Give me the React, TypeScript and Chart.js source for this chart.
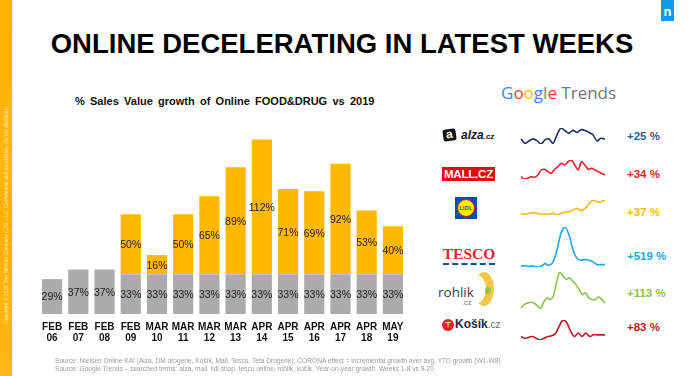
import React, { useEffect, useRef } from "react";
import { Chart, registerables } from "chart.js";

Chart.register(...registerables);

const categories = [
  ["FEB", "06"], ["FEB", "07"], ["FEB", "08"], ["FEB", "09"], ["MAR", "10"], ["MAR", "11"], ["MAR", "12"],
  ["MAR", "13"], ["APR", "14"], ["APR", "15"], ["APR", "16"], ["APR", "17"], ["APR", "18"], ["MAY", "19"],
];
const baseGrowth = [29, 37, 37, 33, 33, 33, 33, 33, 33, 33, 33, 33, 33, 33];
const coronaEffect = [0, 0, 0, 50, 16, 50, 65, 89, 112, 71, 69, 92, 53, 40];

const alzaTrend = [23, 10, 17, 23, 18, 8, 20, 23, 10, 35, 55, 47, 40, 48, 42, 50, 48, 42, 35, 17, 25, 22];
const mallTrend = [15, 8, 10, 15, 13, 20, 35, 37, 30, 25, 37, 45, 55, 50, 60, 65, 50, 35, 60, 50, 37, 40, 35, 30, 25, 20];
const lidlTrend = [10, 7, 10, 12, 10, 7, 8, 7, 10, 5, 10, 13, 15, 20, 25, 18, 25, 38, 50, 45, 45, 50];
const tescoTrend = [4, 6, 4, 5, 2, 4, 12, 7, 17, 52, 102, 120, 97, 52, 27, 22, 24, 22, 17, 9, 9, 9];
const rohlikTrend = [5, 15, 20, 22, 20, 12, 2, 22, 35, 30, 40, 80, 112, 100, 90, 95, 85, 75, 60, 45, 50, 35, 30, 30, 38, 30, 20];
const kosikTrend = [15, 10, 13, 15, 10, 5, 10, 15, 17, 23, 45, 63, 55, 30, 15, 25, 15, 25, 15, 20, 20, 20, 20];

const trendChanges = ["+25 %", "+34 %", "+37 %", "+519 %", "+113 %", "+83 %"];

const FONT = "'Liberation Sans', Arial, Helvetica, sans-serif";

const barLabels = {
  id: "barLabels",
  afterDatasetsDraw(chart: any) {
    const ctx = chart.ctx;
    ctx.save();
    ctx.font = `10.5px ${FONT}`;
    ctx.fillStyle = "#222";
    ctx.textAlign = "center";
    ctx.textBaseline = "middle";
    chart.data.datasets.forEach((ds: any, i: number) => {
      const meta = chart.getDatasetMeta(i);
      meta.data.forEach((el: any, j: number) => {
        const v = ds.data[j];
        if (!v) return;
        const p = el.getProps(["x", "y", "base"], true);
        ctx.fillText(v + "%", p.x, (p.y + p.base) / 2 + 1);
      });
    });
    ctx.restore();
  },
};

function BarChart() {
  const ref = useRef<HTMLCanvasElement>(null);
  useEffect(() => {
    const chart = new Chart(ref.current as HTMLCanvasElement, {
      type: "bar",
      data: {
        labels: categories,
        datasets: [
          { label: "Base", data: baseGrowth, backgroundColor: "#ABABAB", borderWidth: 0 },
          { label: "Corona", data: coronaEffect, backgroundColor: "#FFB800", borderWidth: 0 },
        ],
      },
      options: {
        animation: false,
        responsive: false,
        maintainAspectRatio: false,
        events: [],
        layout: { padding: { left: 19, right: 14, top: 10, bottom: 8 } },
        datasets: { bar: { categoryPercentage: 1, barPercentage: 0.77 } },
        plugins: { legend: { display: false }, tooltip: { enabled: false } },
        scales: {
          x: {
            stacked: true,
            grid: { display: false, drawTicks: false },
            border: { display: false },
            ticks: {
              color: "#111",
              padding: 8,
              maxRotation: 0,
              autoSkip: false,
              font: { family: FONT, size: 10, weight: "bold", lineHeight: 1.1 },
            },
          },
          y: { stacked: true, display: false, min: 0, max: 153 },
        },
      },
      plugins: [barLabels],
    } as any);
    return () => chart.destroy();
  }, []);
  return (
    <canvas
      ref={ref}
      width={400}
      height={240}
      style={{ position: "absolute", left: 20, top: 120, width: 400, height: 240 }}
    />
  );
}

function Spark(props: { data: number[]; color: string; left: number; top: number; width: number; height: number }) {
  const ref = useRef<HTMLCanvasElement>(null);
  const { data, color, left, top, width, height } = props;
  useEffect(() => {
    const chart = new Chart(ref.current as HTMLCanvasElement, {
      type: "line",
      data: {
        labels: data.map((_, i) => String(i)),
        datasets: [{ data, borderColor: color, borderWidth: 1.6, pointRadius: 0, tension: 0.3, fill: false }],
      },
      options: {
        animation: false,
        responsive: false,
        maintainAspectRatio: false,
        events: [],
        layout: { padding: 1 },
        plugins: { legend: { display: false }, tooltip: { enabled: false } },
        scales: {
          x: { display: false },
          y: { display: false, min: Math.min(...data), max: Math.max(...data) },
        },
      },
    } as any);
    return () => chart.destroy();
  }, []);
  return (
    <canvas ref={ref} width={width} height={height} style={{ position: "absolute", left, top, width, height }} />
  );
}

function Pct(props: { text: string; color: string; top: number }) {
  return (
    <div
      style={{
        position: "absolute",
        left: 627,
        top: props.top - 7,
        height: 14,
        lineHeight: "14px",
        fontFamily: FONT,
        fontWeight: "bold",
        fontSize: 11.5,
        color: props.color,
        whiteSpace: "nowrap",
      }}
    >
      {props.text}
    </div>
  );
}

export default function App() {
  const abs = (s: any) => ({ position: "absolute", ...s } as React.CSSProperties);
  return (
    <div
      style={{
        position: "fixed",
        left: 0,
        top: 0,
        width: 700,
        height: 376,
        background: "#fff",
        overflow: "hidden",
        fontFamily: FONT,
      }}
    >
      {/* left strip */}
      <div style={abs({ left: 0, top: 0, width: 12, height: 376, background: "linear-gradient(180deg,#FFB000 0%,#FFB60F 40%,#FDB000 60%,#FFB81A 100%)" })} />
      <div
        style={abs({
          left: 6,
          top: 215,
          width: 240,
          marginLeft: -120,
          textAlign: "center",
          transform: "rotate(-90deg)",
          fontSize: 5,
          color: "rgba(255,255,255,0.75)",
          whiteSpace: "nowrap",
          lineHeight: "6px",
          marginTop: -3,
        })}
      >
        Copyright © 2020 The Nielsen Company (US), LLC. Confidential and proprietary. Do not distribute.
      </div>

      {/* nielsen icon */}
      <div
        style={abs({
          left: 661,
          top: 0,
          width: 13,
          height: 21,
          background: "#0B9BEA",
          color: "#fff",
          fontSize: 13,
          fontWeight: "bold",
          textAlign: "center",
          lineHeight: "24px",
        })}
      >
        n
      </div>

      {/* title */}
      <div
        style={abs({
          left: 0,
          width: 684,
          top: 28,
          textAlign: "center",
          fontSize: 27.5,
          fontWeight: "bold",
          color: "#000",
          lineHeight: "32px",
          whiteSpace: "nowrap",
        })}
      >
        ONLINE DECELERATING IN LATEST WEEKS
      </div>

      {/* subtitle */}
      <div
        style={abs({
          left: 75,
          top: 94,
          fontSize: 11,
          fontWeight: "bold",
          color: "#111",
          wordSpacing: 2.2,
          lineHeight: "14px",
          whiteSpace: "nowrap",
        })}
      >
        % Sales Value growth of Online FOOD&amp;DRUG vs 2019
      </div>

      <BarChart />

      {/* Google Trends */}
      <div style={abs({ left: 501, top: 82, fontSize: 17, lineHeight: "22px", whiteSpace: "nowrap", fontFamily: "'Open Sans', " + FONT })}>
        <span style={{ color: "#4285F4" }}>G</span>
        <span style={{ color: "#EA4335" }}>o</span>
        <span style={{ color: "#FBBC05" }}>o</span>
        <span style={{ color: "#4285F4" }}>g</span>
        <span style={{ color: "#34A853" }}>l</span>
        <span style={{ color: "#EA4335" }}>e</span>
        <span style={{ color: "#737373" }}> Trends</span>
      </div>

      {/* alza logo */}
      <div
        style={abs({
          left: 443,
          top: 129,
          width: 13,
          height: 12,
          background: "#111",
          borderRadius: 2,
          transform: "rotate(-8deg)",
          color: "#fff",
          fontWeight: "bold",
          fontSize: 12,
          lineHeight: "11px",
          textAlign: "center",
        })}
      >
        a
      </div>
      <div style={abs({ left: 461, top: 128, fontSize: 12, fontWeight: "bold", fontStyle: "italic", color: "#16162a", lineHeight: "14px", whiteSpace: "nowrap" })}>
        alza<span style={{ fontSize: 8 }}>.cz</span>
      </div>

      {/* MALL logo */}
      <div
        style={abs({
          left: 442,
          top: 167,
          width: 53,
          height: 14,
          background: "#E30613",
          color: "#fff",
          fontWeight: "bold",
          fontSize: 11.5,
          lineHeight: "14px",
          textAlign: "center",
          letterSpacing: -0.2,
        })}
      >
        MALL.CZ
      </div>

      {/* LIDL logo */}
      <div style={abs({ left: 455, top: 197, width: 22, height: 22, background: "#0050AA" })}>
        <div
          style={abs({
            left: 2,
            top: 2,
            width: 16,
            height: 16,
            borderRadius: "50%",
            background: "#FFF000",
            border: "1px solid #E60A14",
            color: "#0050AA",
            fontSize: 5.5,
            fontWeight: "bold",
            textAlign: "center",
            lineHeight: "16px",
            letterSpacing: 0.2,
          })}
        >
          L<span style={{ color: "#E60A14" }}>I</span>DL
        </div>
      </div>

      {/* TESCO logo */}
      <div
        style={abs({
          left: 442,
          top: 246,
          width: 54,
          textAlign: "center",
          fontFamily: "'Liberation Serif', 'DejaVu Serif', serif",
          fontWeight: "bold",
          fontSize: 15.5,
          color: "#EE1C2E",
          lineHeight: "16px",
        })}
      >
        TESCO
      </div>
      <div style={abs({ left: 443, top: 263, width: 52, height: 0, borderTop: "2px dashed #00539F" })} />

      {/* rohlik logo: croissant first, text on top */}
      <div style={abs({ left: 474, top: 272, width: 20, height: 34, borderRadius: "50%", background: "#F4C64A" })} />
      <div style={abs({ left: 467, top: 275, width: 19, height: 28, borderRadius: "50%", background: "#fff" })} />
      <div style={abs({ left: 485, top: 287, width: 6, height: 7, borderRadius: "50%", background: "#9BBF45" })} />
      <div style={abs({ left: 438, top: 284, fontSize: 13.5, color: "#3d3d3d", lineHeight: "16px", fontFamily: "'Open Sans', " + FONT })}>
        rohlik
      </div>
      <div style={abs({ left: 462, top: 298, fontSize: 7.5, color: "#777", lineHeight: "9px" })}>.cz</div>

      {/* kosik logo */}
      <div
        style={abs({
          left: 442,
          top: 319,
          width: 12,
          height: 12,
          borderRadius: "50%",
          background: "#D9262E",
          color: "#fff",
          fontSize: 7,
          lineHeight: "12px",
          textAlign: "center",
          fontWeight: "bold",
        })}
      >
        ⊤
      </div>
      <div style={abs({ left: 455, top: 317, fontSize: 12, lineHeight: "14px", whiteSpace: "nowrap", color: "#2a2a3c" })}>
        <span style={{ fontWeight: "bold" }}>Košík</span>
        <span style={{ color: "#666", fontSize: 10 }}>.cz</span>
      </div>

      {/* sparklines */}
      <Spark data={alzaTrend} color="#1B2C6B" left={520} top={127} width={86} height={18} />
      <Spark data={mallTrend} color="#E8202A" left={520} top={159} width={86} height={21} />
      <Spark data={lidlTrend} color="#FDB515" left={520} top={199} width={86} height={17} />
      <Spark data={tescoTrend} color="#1EA7E1" left={520} top={226} width={86} height={42} />
      <Spark data={rohlikTrend} color="#8BC34A" left={520} top={271} width={86} height={39} />
      <Spark data={kosikTrend} color="#C0161E" left={520} top={319} width={86} height={22} />

      <Pct text={trendChanges[0]} color="#1F6496" top={136} />
      <Pct text={trendChanges[1]} color="#E8202A" top={174} />
      <Pct text={trendChanges[2]} color="#FDB515" top={212} />
      <Pct text={trendChanges[3]} color="#1EA7E1" top={256} />
      <Pct text={trendChanges[4]} color="#8BC34A" top={293} />
      <Pct text={trendChanges[5]} color="#C0161E" top={327} />

      {/* footer */}
      <div style={abs({ left: 55, top: 357, fontSize: 6.6, color: "#9a9a9a", lineHeight: "7.5px", whiteSpace: "nowrap" })}>
        Source: Nielsen Online KAI (Alza, DM drogerie, Košík, Mall, Tesco, Teta Drogerie); CORONA effect = incremental growth over avg. YTD growth (W1-W8)
        <br />
        Source: Google Trends – searched terms: alza, mall, lidl shop, tesco online, rohlik, košík. Year-on-year growth. Weeks 1-8 vs 9-20
      </div>
    </div>
  );
}
